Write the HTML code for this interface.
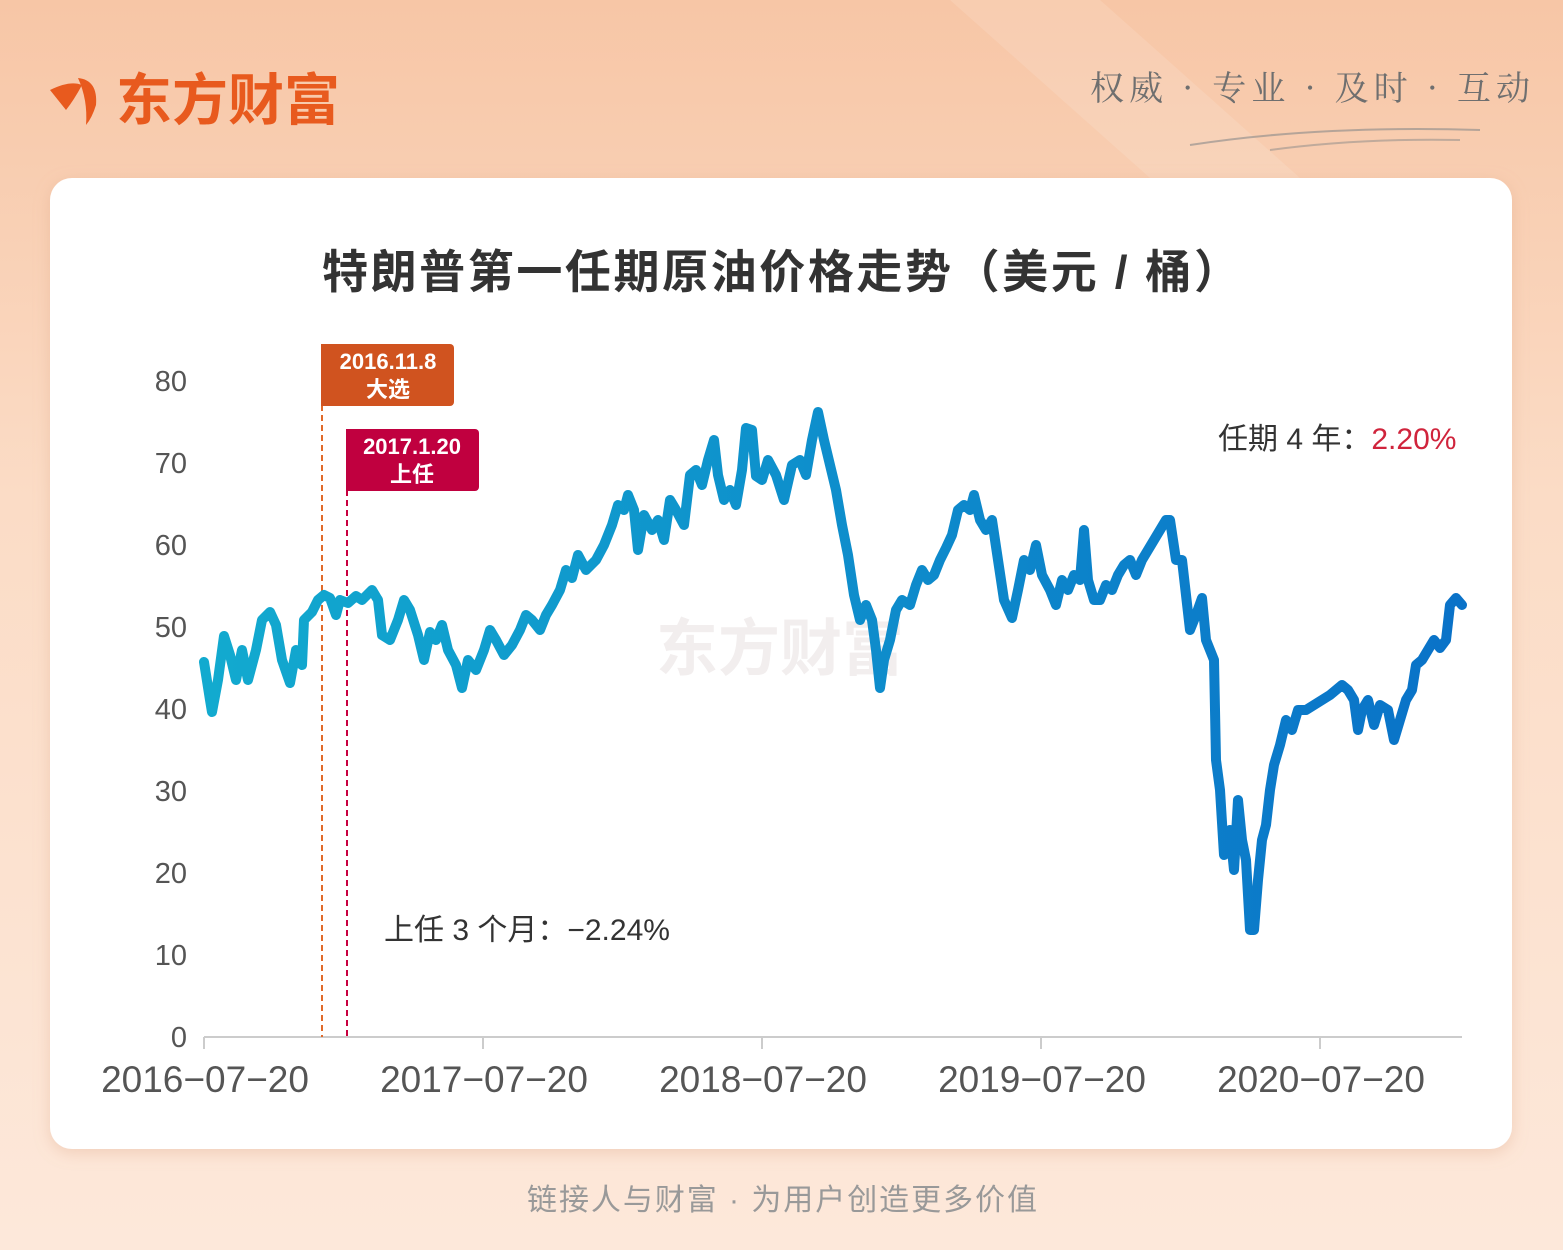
<!DOCTYPE html>
<html><head><meta charset="utf-8"><style>
body{margin:0;width:1563px;height:1250px;overflow:hidden;font-family:"Liberation Sans","Noto Sans CJK SC",sans-serif;}
.bg{position:absolute;left:0;top:0;width:1563px;height:1250px;background:linear-gradient(180deg,#f7c6a6 0%,#fbdcc6 40%,#fde8da 100%);}
</style></head><body>
<div class="bg"></div>
<svg width="1563" height="1250" style="position:absolute;left:0;top:0">
<defs>
<linearGradient id="lg" x1="0" x2="1" y1="0" y2="0"><stop offset="0" stop-color="#12aacf"/><stop offset="1" stop-color="#0a72c8"/></linearGradient>
<filter id="sh" x="-5%" y="-5%" width="110%" height="110%"><feDropShadow dx="0" dy="4" stdDeviation="8" flood-color="#d9a080" flood-opacity="0.35"/></filter>
</defs>
<polygon points="950,0 1100,0 1300,178 1150,178" fill="#ffffff" opacity="0.12"/>
<path d="M50,90 Q70,80 82,85 Q74,100 66,110 Q58,100 50,90Z" fill="#e85a1e"/>
<path d="M78,78 Q98,80 96,105 Q92,118 86,125 Q88,100 78,78Z" fill="#e85a1e"/>
<text x="116" y="120" font-size="56" font-weight="bold" fill="#e85a1e" font-family="'Noto Sans CJK SC',sans-serif">东方财富</text>
<text x="1090" y="100" font-size="34" fill="#6f6f6f" font-family="'Noto Serif CJK SC',serif" textLength="440">权威 · 专业 · 及时 · 互动</text>
<path d="M1190,145 Q1320,125 1480,130" stroke="#888" stroke-width="2" fill="none" opacity="0.6"/>
<path d="M1270,150 Q1360,138 1460,140" stroke="#888" stroke-width="2" fill="none" opacity="0.5"/>
<rect x="50" y="178" width="1462" height="971" rx="22" fill="#fff" filter="url(#sh)"/>
<text x="322" y="288" font-size="46" font-weight="bold" fill="#333" textLength="918">特朗普第一任期原油价格走势（美元 / 桶）</text>
<text x="780" y="670" text-anchor="middle" font-size="62" font-weight="bold" fill="#f2eeee">东方财富</text>
<g font-size="29" fill="#555" text-anchor="end">
<text x="187" y="1047">0</text><text x="187" y="965">10</text><text x="187" y="883">20</text><text x="187" y="801">30</text><text x="187" y="719">40</text><text x="187" y="637">50</text><text x="187" y="555">60</text><text x="187" y="473">70</text><text x="187" y="391">80</text>
</g>
<line x1="204" y1="1037" x2="1462" y2="1037" stroke="#ccc" stroke-width="2"/>
<g stroke="#ccc" stroke-width="2"><line x1="204" y1="1037" x2="204" y2="1049"/><line x1="483" y1="1037" x2="483" y2="1049"/><line x1="762" y1="1037" x2="762" y2="1049"/><line x1="1041" y1="1037" x2="1041" y2="1049"/><line x1="1320" y1="1037" x2="1320" y2="1049"/></g>
<g font-size="37" fill="#555" text-anchor="middle">
<text x="205" y="1092">2016−07−20</text><text x="484" y="1092">2017−07−20</text><text x="763" y="1092">2018−07−20</text><text x="1042" y="1092">2019−07−20</text><text x="1321" y="1092">2020−07−20</text>
</g>
<line x1="322" y1="405" x2="322" y2="1037" stroke="#e06a2a" stroke-width="2" stroke-dasharray="6,4"/>
<line x1="347" y1="490" x2="347" y2="1037" stroke="#c8003f" stroke-width="2" stroke-dasharray="6,4"/>
<path d="M321,344 H450 a4,4 0 0 1 4,4 V402 a4,4 0 0 1 -4,4 H321Z" fill="#d0531f"/>
<text x="388" y="369" text-anchor="middle" font-size="22" font-weight="bold" fill="#fff">2016.11.8</text>
<text x="388" y="397" text-anchor="middle" font-size="22" font-weight="bold" fill="#fff">大选</text>
<path d="M346,429 H475 a4,4 0 0 1 4,4 V487 a4,4 0 0 1 -4,4 H346Z" fill="#c0003f"/>
<text x="412" y="454" text-anchor="middle" font-size="22" font-weight="bold" fill="#fff">2017.1.20</text>
<text x="412" y="482" text-anchor="middle" font-size="22" font-weight="bold" fill="#fff">上任</text>
<text x="384" y="940" font-size="30" fill="#333">上任 3 个月：−2.24%</text>
<text x="1218" y="449" font-size="30" fill="#333">任期 4 年：<tspan fill="#d0243c">2.20%</tspan></text>
<polyline fill="none" stroke="url(#lg)" stroke-width="10" stroke-linejoin="round" stroke-linecap="round" points="204,662 210,700 212,712 218,680 224,636 230,655 236,680 242,650 248,680 256,650 262,620 270,612 276,625 282,660 290,683 296,650 302,665 304,620 312,612 318,600 324,595 330,598 336,615 340,600 348,603 356,596 362,600 372,590 378,600 382,635 390,640 398,620 404,600 410,610 418,635 424,660 430,632 436,640 442,625 448,650 456,665 462,688 468,660 476,670 484,650 490,630 496,640 504,655 512,645 520,630 526,615 532,620 540,630 546,615 552,605 560,590 566,570 572,578 578,555 586,570 596,560 604,545 612,525 618,505 624,510 628,495 634,510 638,550 644,515 652,530 658,520 664,540 670,500 676,510 684,525 690,475 696,470 702,485 708,460 714,440 718,475 724,500 730,490 736,505 742,470 746,428 752,430 756,476 762,480 768,460 776,475 784,500 792,465 800,460 806,475 812,440 818,412 824,440 830,465 836,490 842,525 848,555 854,595 860,620 866,605 872,620 876,650 880,688 884,660 890,640 896,610 902,600 910,605 916,585 922,570 928,580 934,575 940,560 946,548 952,535 958,510 964,505 970,510 974,495 980,520 986,530 992,520 998,560 1004,600 1012,618 1018,590 1024,560 1030,570 1036,545 1042,575 1050,590 1056,605 1062,580 1068,590 1074,575 1080,580 1084,530 1088,580 1094,600 1100,600 1106,585 1112,590 1118,575 1124,565 1130,560 1136,575 1142,560 1148,550 1154,540 1160,530 1166,520 1170,520 1176,560 1182,560 1186,595 1190,630 1196,615 1202,598 1206,640 1210,650 1214,660 1216,760 1220,790 1224,855 1230,830 1234,870 1238,800 1242,840 1246,860 1250,930 1254,930 1258,880 1262,840 1266,825 1270,790 1274,765 1280,745 1286,720 1292,730 1298,710 1306,710 1314,705 1322,700 1330,695 1336,690 1342,685 1348,690 1354,700 1358,730 1362,710 1368,700 1374,725 1380,705 1388,710 1394,740 1400,720 1406,700 1412,690 1416,665 1422,660 1428,650 1434,640 1440,648 1446,640 1450,605 1456,598 1462,605"/>
<text x="527" y="1210" font-size="30" fill="#999" textLength="510">链接人与财富 · 为用户创造更多价值</text>
</svg>
</body></html>
